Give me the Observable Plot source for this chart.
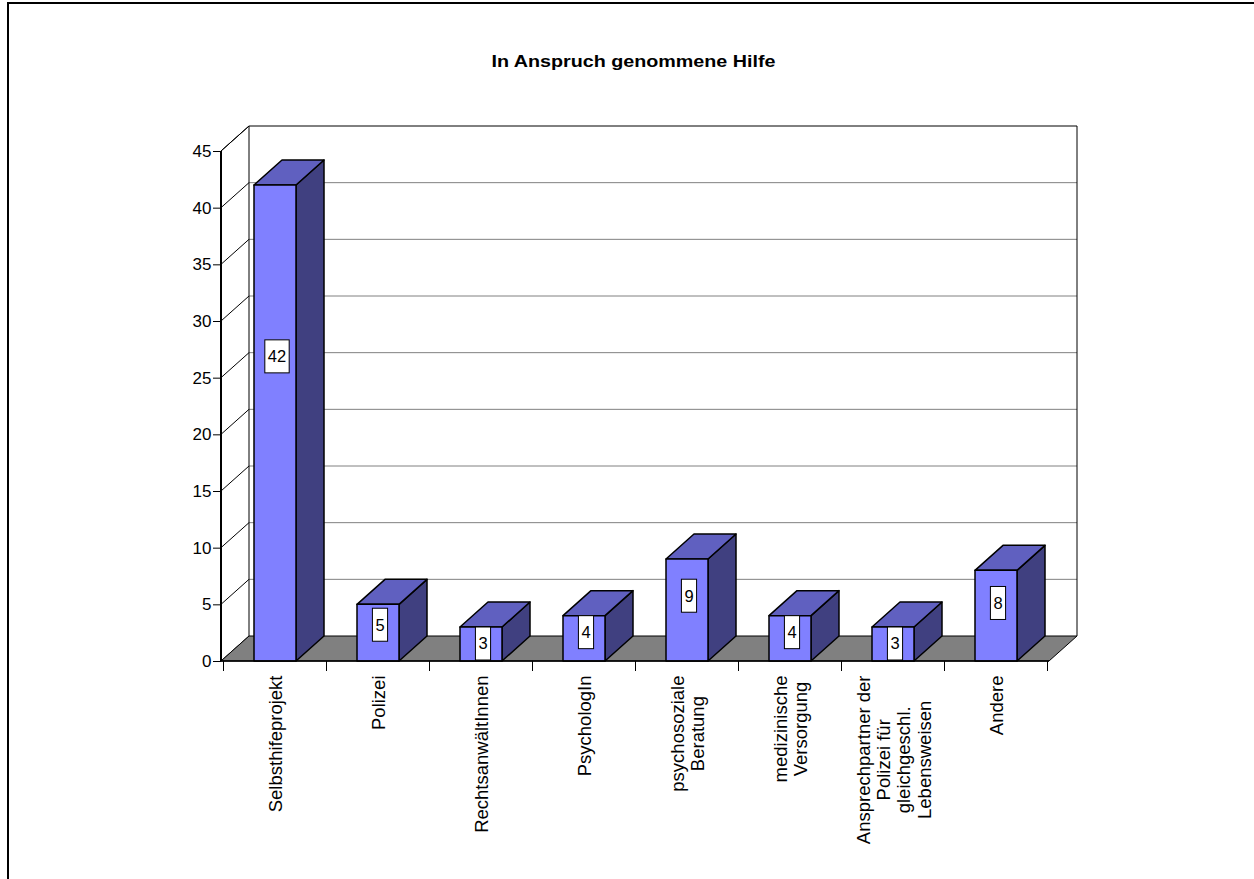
<!DOCTYPE html>
<html><head><meta charset="utf-8">
<script src="https://cdn.jsdelivr.net/npm/d3@7"></script>
<script src="https://cdn.jsdelivr.net/npm/@observablehq/plot@0.6"></script>
<style>
html,body{margin:0;padding:0;overflow:hidden;background:#fff;width:1254px;height:879px;}
#frame{position:absolute;left:7px;top:2px;width:3000px;height:3000px;border-left:2px solid #000;border-top:2px solid #000;}
#title{position:absolute;left:0;top:52px;width:1266px;text-align:center;font:bold 17px "Liberation Sans",Arial,sans-serif;line-height:19px;}
#chart{position:absolute;left:0;top:90px;}
</style></head><body>
<div id="frame"></div>
<div id="title"><span style="display:inline-block;transform:scaleX(1.16)">In Anspruch genommene Hilfe</span></div>
<div id="chart"></div>
<script>
const categories = [
  "Selbsthifeprojekt",
  "Polizei",
  "RechtsanwältInnen",
  "PsychologIn",
  "psychosoziale\nBeratung",
  "medizinische\nVersorgung",
  "Ansprechpartner der\nPolizei für\ngleichgeschl.\nLebensweisen",
  "Andere"
];
const values = [42, 5, 3, 4, 9, 4, 3, 8];
const yTicks = [0, 5, 10, 15, 20, 25, 30, 35, 40, 45];

const FONT = '"Liberation Sans", Arial, sans-serif';
const ctx = document.createElement("canvas").getContext("2d");
function measure(txt, size, weight) {
  ctx.font = `${weight || ""} ${size}px ${FONT}`;
  return ctx.measureText(txt).width;
}

const DX = 28, DY = -25;
const COL_FRONT = "#8080ff", COL_TOP = "#6060c0", COL_SIDE = "#404080";

function scene(index, scales, vals, dims) {
  const x = scales.x, y = scales.y;
  const bw = x.bandwidth();
  const x0 = dims.marginLeft, x1 = dims.width - dims.marginRight;
  const y0 = y(0), yTop = y(45);
  const g = d3.create("svg:g");
  // back wall
  g.append("rect").attr("x", x0 + DX).attr("y", yTop + DY)
    .attr("width", x1 - x0).attr("height", y0 - yTop).attr("fill", "#fff");
  for (const t of yTicks) {
    if (t > 0 && t < 45) {
      g.append("line").attr("x1", x0 + DX).attr("x2", x1 + DX)
        .attr("y1", y(t) + DY).attr("y2", y(t) + DY)
        .attr("stroke", "#808080").attr("stroke-width", 1);
    }
  }
  g.append("path")
    .attr("d", `M${x0 + DX},${y0 + DY}V${yTop + DY}H${x1 + DX}V${y0 + DY}`)
    .attr("fill", "none").attr("stroke", "#000").attr("stroke-width", 1);
  // left wall diagonals
  for (const t of yTicks) {
    g.append("line").attr("x1", x0).attr("y1", y(t))
      .attr("x2", x0 + DX).attr("y2", y(t) + DY)
      .attr("stroke", "#000").attr("stroke-width", 1);
  }
  // floor
  g.append("polygon")
    .attr("points", [[x0, y0], [x1, y0], [x1 + DX, y0 + DY], [x0 + DX, y0 + DY]].join(" "))
    .attr("fill", "#808080").attr("stroke", "#000").attr("stroke-width", 1);
  // bars
  categories.forEach((c, i) => {
    const v = values[i];
    const xl = x(c), xr = xl + bw, yt = y(v);
    const st = {stroke: "#000", "stroke-width": 1.5, "stroke-linejoin": "round"};
    const side = g.append("polygon")
      .attr("points", [[xr, y0], [xr, yt], [xr + DX, yt + DY], [xr + DX, y0 + DY]].join(" "))
      .attr("fill", COL_SIDE);
    const top = g.append("polygon")
      .attr("points", [[xl, yt], [xr, yt], [xr + DX, yt + DY], [xl + DX, yt + DY]].join(" "))
      .attr("fill", COL_TOP);
    const front = g.append("rect").attr("x", xl).attr("y", yt)
      .attr("width", bw).attr("height", y0 - yt).attr("fill", COL_FRONT);
    for (const el of [side, top, front]) for (const k in st) el.attr(k, st[k]);
  });
  // value labels
  categories.forEach((c, i) => {
    const v = values[i];
    const yt = y(v);
    const cy = Math.max(y(0.64 * v), yt + 16.5);
    const cx = x(c) + bw / 2 + 2;
    const txt = String(v);
    const w = measure(txt, 16.5) + 6, h = 33;
    g.append("rect").attr("x", cx - w / 2).attr("y", cy - h / 2)
      .attr("width", w).attr("height", h)
      .attr("fill", "#fff").attr("stroke", "#000").attr("stroke-width", 1);
    g.append("text").attr("x", cx).attr("y", cy).attr("dy", "0.36em")
      .attr("text-anchor", "middle").attr("font-size", 16.5)
      .attr("font-family", FONT).attr("fill", "#000").text(txt);
  });
  // front axis lines
  g.append("line").attr("x1", x0).attr("x2", x0).attr("y1", y0).attr("y2", yTop)
    .attr("stroke", "#000").attr("stroke-width", 2);
  g.append("line").attr("x1", x0).attr("x2", x0 + DX).attr("y1", yTop).attr("y2", yTop + DY)
    .attr("stroke", "#000").attr("stroke-width", 1);
  g.append("line").attr("x1", x0).attr("x2", x1).attr("y1", y0).attr("y2", y0)
    .attr("stroke", "#000").attr("stroke-width", 1.5);
  // category boundary ticks
  const step = x.step();
  const gap = (step - bw) / 2;
  const bounds = categories.map(c => x(c) - gap);
  bounds.push(x(categories[categories.length - 1]) + bw + gap);
  for (const bx of bounds) {
    g.append("line").attr("x1", bx).attr("x2", bx).attr("y1", y0).attr("y2", y0 + 10)
      .attr("stroke", "#000").attr("stroke-width", 1);
  }
  return g.node();
}

const CAT_SIZE = 18.5;
const catMarks = categories.map(c => {
  const maxLen = d3.max(c.split("\n"), l => measure(l, CAT_SIZE));
  return Plot.text([c], {
    x: d => d, text: d => d, frameAnchor: "bottom",
    rotate: -90, textAnchor: "middle", lineAnchor: "middle",
    lineHeight: 1.1, fontSize: CAT_SIZE, fill: "#000",
    dy: 14 + maxLen / 2
  });
});

const chart = Plot.plot({
  width: 1254,
  height: 789,
  marginLeft: 221,
  marginRight: 205,
  marginTop: 61,
  marginBottom: 218,
  style: {fontFamily: FONT, background: "transparent", overflow: "visible", color: "#000"},
  x: {type: "band", domain: categories, paddingInner: 0.595, paddingOuter: 0.2975, axis: null},
  y: {domain: [0, 45], axis: null},
  marks: [
    scene,
    Plot.axisY({ticks: yTicks, tickSize: 8, tickPadding: 2, fontSize: 17, label: null, tickFormat: d => String(d)}),
    ...catMarks
  ]
});
document.getElementById("chart").appendChild(chart);
</script>
</body></html>
